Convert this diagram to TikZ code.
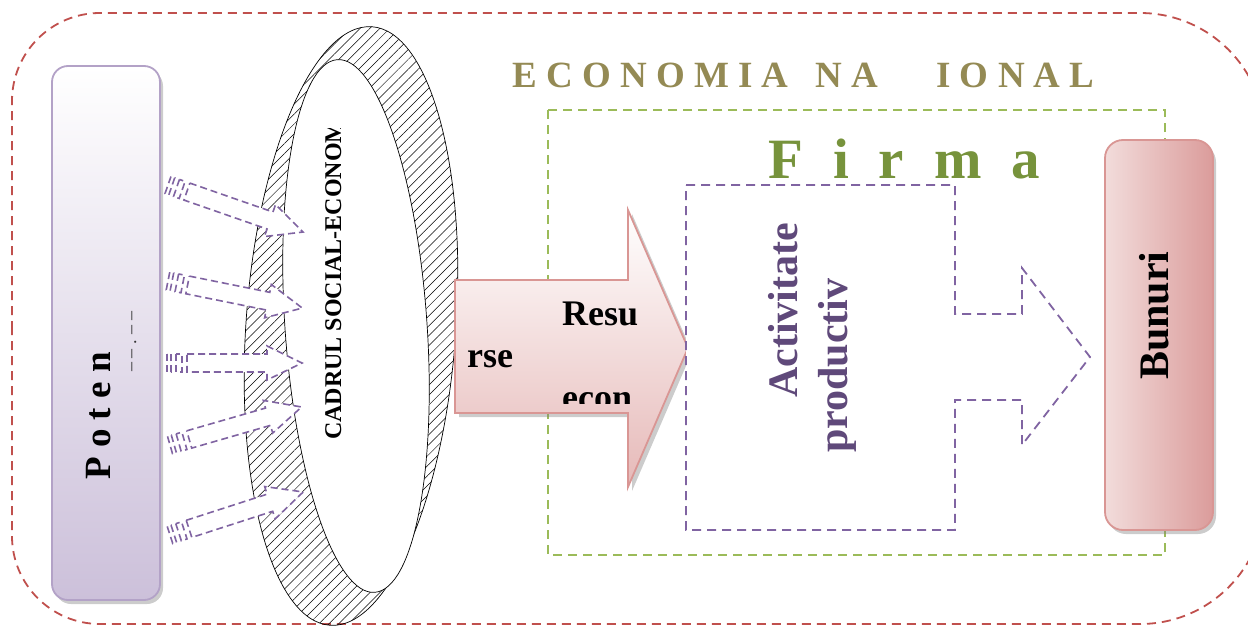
\documentclass[tikz,border=0pt]{standalone}
\usepackage{fontspec}
\setmainfont{Liberation Serif}
\usetikzlibrary{shadows,patterns.meta,calc}
\definecolor{redline}{HTML}{C0504D}
\definecolor{greenline}{HTML}{9BBB59}
\definecolor{purpline}{HTML}{8064A2}
\definecolor{purptext}{HTML}{5F497A}
\definecolor{olive}{HTML}{948A54}
\definecolor{firmagreen}{HTML}{77933C}
\definecolor{pinkline}{HTML}{D99694}
\definecolor{pinkfill}{HTML}{E6B9B8}
\definecolor{pinklight}{HTML}{F2DCDB}
\definecolor{pinkdark}{HTML}{DB9C9B}
\definecolor{lilacline}{HTML}{B3A2C7}
\definecolor{lilacfill}{HTML}{CCC0DA}
\newcommand{\bsize}[1]{\fontsize{#1}{#1}\selectfont\bfseries}
\tikzstyle{outer}=[draw=redline, line width=1.8pt, dash pattern=on 9pt off 6pt]
\tikzstyle{boxshadow}=[drop shadow={shadow xshift=3pt, shadow yshift=-4pt, opacity=0.4, fill=black!50}]
\tikzstyle{lilacbox}=[draw=lilacline, line width=1.8pt, rounded corners=16pt,
  top color=white, bottom color=lilacfill, boxshadow]
\tikzstyle{pinkbox}=[draw=pinkline, line width=1.8pt, rounded corners=18pt,
  left color=pinklight, right color=pinkdark, boxshadow]
\tikzstyle{ringband}=[pattern={Lines[angle=45,distance=7pt,line width=0.5pt]}]
\tikzstyle{ringline}=[draw=black, line width=0.7pt]
\tikzstyle{stripe}=[draw=purpline, line width=1.6pt, dash pattern=on 7pt off 4pt, fill=white]
\tikzstyle{firmabox}=[draw=greenline, line width=1.8pt, dash pattern=on 9pt off 6pt]
\tikzstyle{actbox}=[draw=purpline, line width=1.8pt, dash pattern=on 9pt off 6pt, fill=white]
\tikzstyle{pinkarrow}=[draw=pinkline, line width=1.8pt, top color=white, bottom color=pinkfill,
  drop shadow={shadow xshift=4pt, shadow yshift=-4pt, opacity=0.4, fill=black!50}]
\tikzstyle{txt}=[inner sep=0pt, anchor=base west]
% striped arrow: tail x, tail y, angle, length
\newcommand{\striparrow}[4]{%
\begin{scope}[shift={(#1,#2)}, rotate=#3]
  \path[stripe] (0,-9) rectangle (4,9);
  \path[stripe] (9,-9) rectangle (15,9);
  \path[stripe] (20,-9) -- (#4-35,-9) -- (#4-35,-17) -- (#4,0) -- (#4-35,17) -- (#4-35,9) -- (20,9) -- cycle;
\end{scope}}

\begin{document}
\begin{tikzpicture}[x=1pt,y=-1pt]
  \useasboundingbox (0,0) rectangle (1248,626);

  % Outer frame
  \draw[outer] (12,330) [rounded corners=88pt] -- (12,13) -- (700,13)
    [rounded corners=125pt] -- (1265,13) -- (1265,624) -- (700,624)
    [rounded corners=88pt] -- (12,624) -- (12,330);

  % Potential box
  \node[lilacbox, minimum width=108pt, minimum height=534pt, inner sep=0pt] (poten) at (106,333) {};
  \node[txt, rotate=90, font=\bsize{37}] (potentxt) at (110,480) {P o t e n};
  \node[txt, rotate=90, font=\fontsize{18}{18}\selectfont, text=black!80] (potenmark) at (136,372) {\textendash\ \textendash\ . \textendash\ \textendash};

  % Ring
  \path[ringband, ringline, rotate around={-4:(351,326)}] (351,326) ellipse [x radius=105, y radius=300];
  \path[fill=white, ringline, rotate around={4:(356,326)}] (356,326) ellipse [x radius=71, y radius=267];

  % Striped arrows
  \striparrow{168}{185}{-19.2}{143}
  \striparrow{168}{281}{-11.4}{137}
  \striparrow{167}{363}{0}{135}
  \striparrow{170}{445}{16.1}{137}
  \striparrow{170}{535}{17.9}{140}

  \begin{scope}
    \clip (300,128) rectangle (370,470);
    \node[txt, rotate=90, font=\bsize{24}] (cadru) at (341,440) {CADRUL SOCIAL-ECONOMIC};
  \end{scope}

  % Firm frame
  \draw[firmabox] (548,110) rectangle (1165,555);

  % Resources arrow
  \path[pinkarrow] (455,280) -- (628,280) -- (628,210) -- (688,348) -- (628,487)
    -- (628,413) -- (455,413) -- cycle;
  \begin{scope}
    \clip (455,282) rectangle (680,403);
    \node[txt, font=\bsize{36}] (resu) at (562,325) {Resu};
    \node[txt, font=\bsize{36}] (rse) at (467,367) {rse};
    \node[txt, font=\bsize{36}] (econ) at (562,409) {econ};
  \end{scope}

  % Production activity
  \path[actbox] (686,185) -- (955,185) -- (955,314) -- (1022,314) -- (1022,268)
    -- (1090,357) -- (1022,445) -- (1022,400) -- (955,400) -- (955,530) -- (686,530) -- cycle;
  \node[txt, rotate=90, font=\bsize{42}, text=purptext] (activ) at (797,398) {Activitate};
  \node[txt, rotate=90, font=\bsize{42}, text=purptext] (prod) at (847,453) {productiv};

  % Goods box
  \node[pinkbox, minimum width=108pt, minimum height=390pt, inner sep=0pt] (bunuri) at (1159,335) {};
  \node[txt, rotate=90, font=\bsize{42}] (bunuritxt) at (1168,380) {Bunuri};

  % Titles
  \node[txt, font=\bsize{37}, text=olive] (econom) at (512,88)
    {E C O N O M I A\hspace{27pt}N A\hspace{58pt}I O N A L};
  \node[txt, font=\bsize{57}, text=firmagreen] (firma) at (768,178)
    {F\hspace{30pt}i\hspace{30pt}r\hspace{30pt}m\hspace{30pt}a};
\end{tikzpicture}
\end{document}
